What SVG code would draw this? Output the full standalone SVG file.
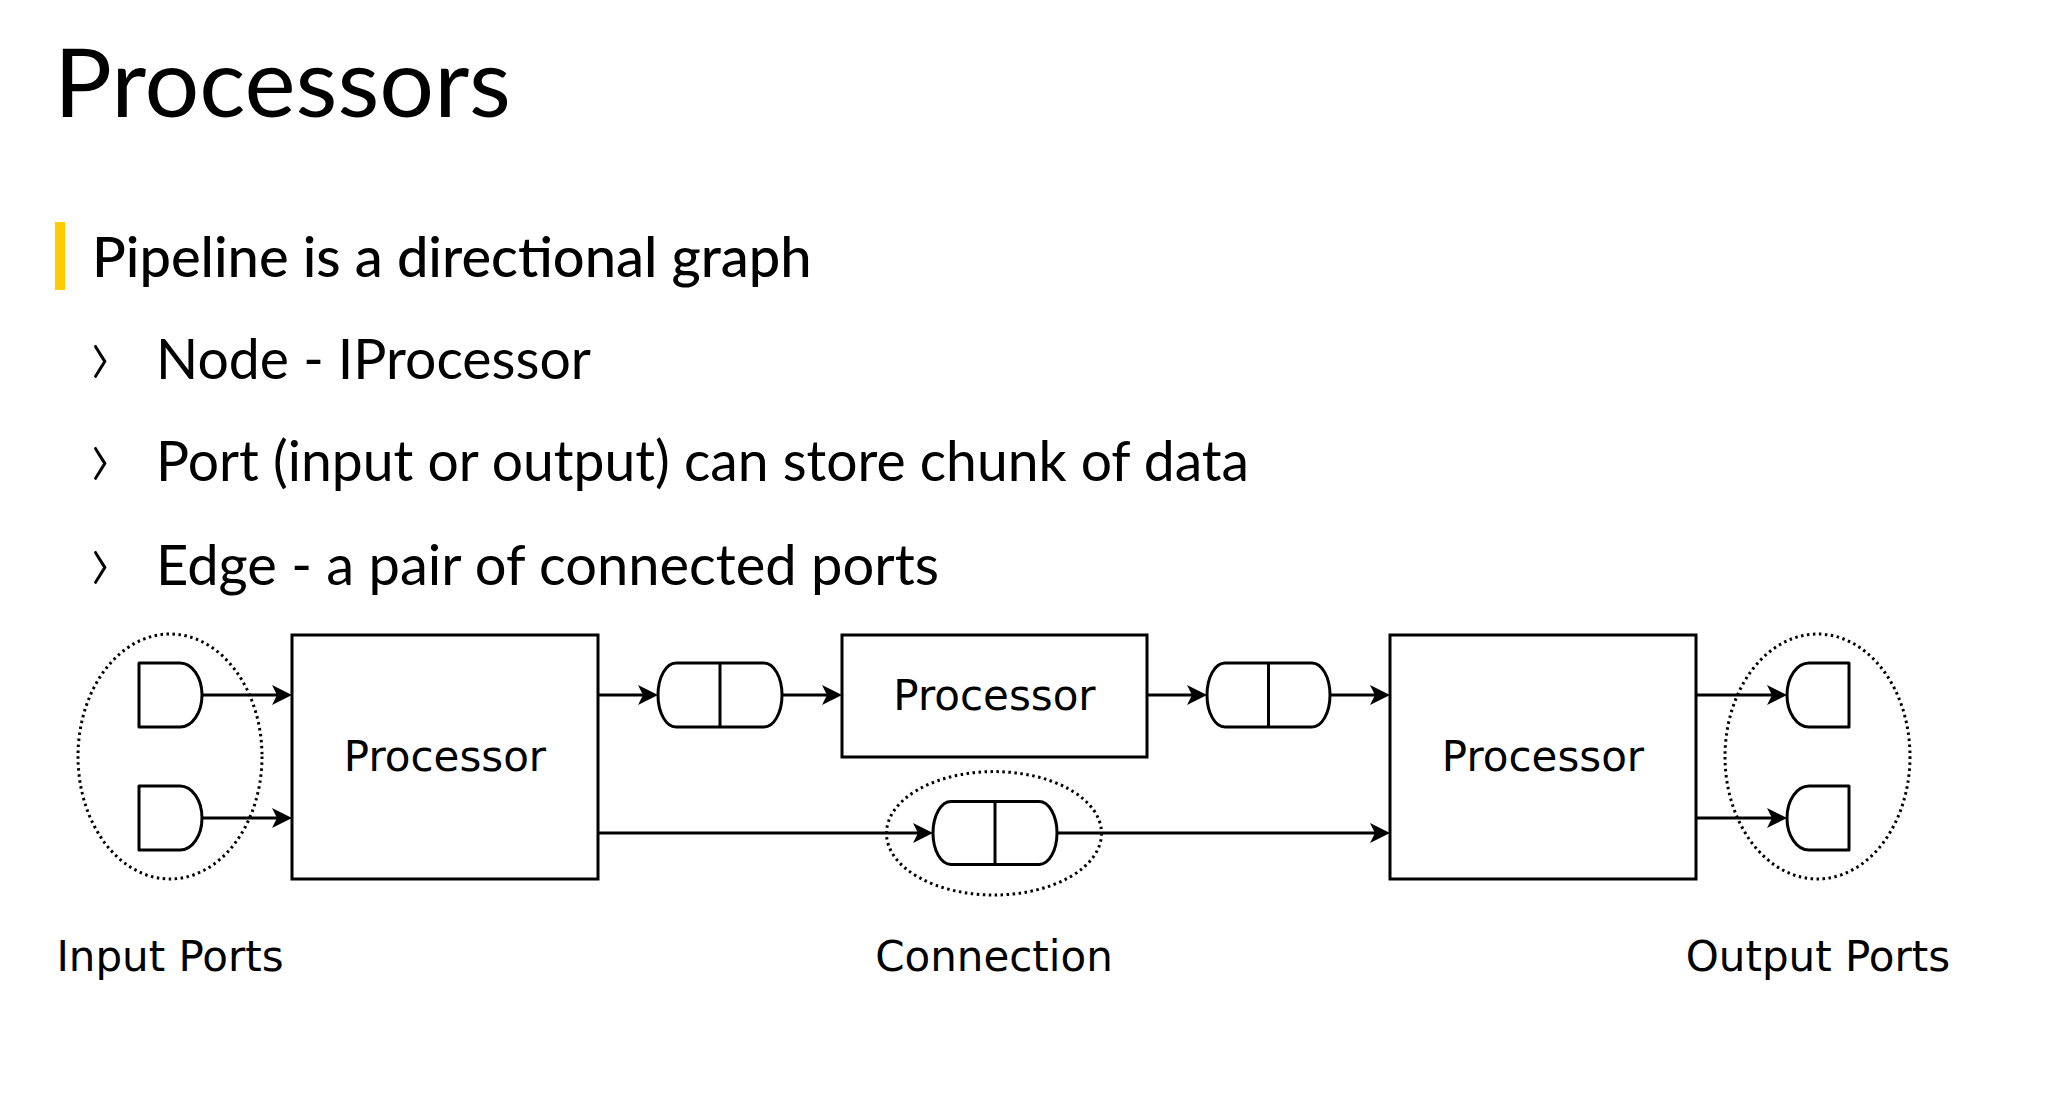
<svg xmlns="http://www.w3.org/2000/svg" width="2052" height="1102" viewBox="0 0 2052 1102">
<style>
.bg{fill:#ffffff}
.title{font-family:Lato,"Open Sans","Liberation Sans",sans-serif;font-size:95px;fill:#000}
.sub{font-family:Lato,"Open Sans","Liberation Sans",sans-serif;font-size:56px;font-weight:500;fill:#000}
.bul{font-family:Lato,"Open Sans","Liberation Sans",sans-serif;font-size:57px;font-weight:400;fill:#000}
.chev{font-family:Lato,"Open Sans","Liberation Sans",sans-serif;font-size:86px;font-weight:300;fill:#000}
.lbl{font-family:"DejaVu Sans","Liberation Sans",sans-serif;font-size:42px;fill:#000}
.box{fill:#fff;stroke:#000;stroke-width:3}
.port{fill:#fff;stroke:#000;stroke-width:3;stroke-linejoin:round}
.grp{fill:none;stroke:#000;stroke-width:3;stroke-dasharray:2.5 3.5}
.edge{fill:none;stroke:#000;stroke-width:3}
</style>
<defs>
<marker id="arr" markerUnits="userSpaceOnUse" viewBox="0 0 20 20" refX="10" refY="10" markerWidth="20" markerHeight="20" orient="auto">
<path d="M0,0 L20,10 L0,20 L5,10 Z" fill="#000"/>
</marker>
</defs>
<rect class="bg" x="0" y="0" width="2052" height="1102"/>
<g id="header">
<text class="title" x="54" y="117" textLength="457" lengthAdjust="spacingAndGlyphs">Processors</text>
<rect x="55" y="222" width="10" height="68" fill="#FFCC00"/>
<text class="sub" x="92" y="277">Pipeline is a directional graph</text>
<text class="chev" x="88" y="384">›</text>
<text class="bul" x="156" y="379" textLength="435" lengthAdjust="spacingAndGlyphs">Node - IProcessor</text>
<text class="chev" x="88" y="486">›</text>
<text class="bul" x="156" y="481" textLength="1093" lengthAdjust="spacingAndGlyphs">Port (input or output) can store chunk of data</text>
<text class="chev" x="88" y="590">›</text>
<text class="bul" x="156" y="585" textLength="783" lengthAdjust="spacingAndGlyphs">Edge - a pair of connected ports</text>
</g>
<g id="connectors">
<line class="edge" x1="202" y1="695" x2="282" y2="695" marker-end="url(#arr)"/>
<line class="edge" x1="202" y1="818" x2="282" y2="818" marker-end="url(#arr)"/>
<line class="edge" x1="598" y1="695" x2="648" y2="695" marker-end="url(#arr)"/>
<line class="edge" x1="782" y1="695" x2="832" y2="695" marker-end="url(#arr)"/>
<line class="edge" x1="1147" y1="695" x2="1197" y2="695" marker-end="url(#arr)"/>
<line class="edge" x1="1330" y1="695" x2="1380" y2="695" marker-end="url(#arr)"/>
<line class="edge" x1="598" y1="833" x2="923" y2="833" marker-end="url(#arr)"/>
<line class="edge" x1="1057" y1="833" x2="1380" y2="833" marker-end="url(#arr)"/>
<line class="edge" x1="1696" y1="695" x2="1777" y2="695" marker-end="url(#arr)"/>
<line class="edge" x1="1696" y1="818" x2="1777" y2="818" marker-end="url(#arr)"/>
</g>
<g id="input-ports">
<path class="port" d="M139,663 H180 A22,32 0 0 1 180,727 H139 Z"/>
<path class="port" d="M139,786 H180 A22,32 0 0 1 180,850 H139 Z"/>
<ellipse class="grp" cx="170" cy="756.5" rx="92" ry="122.5"/>
<text class="lbl" x="170" y="971" text-anchor="middle">Input Ports</text>
</g>
<g id="processor1">
<rect class="box" x="292" y="635" width="306" height="244"/>
<text class="lbl" x="445" y="771" text-anchor="middle">Processor</text>
</g>
<g id="queue1">
<path class="port" d="M676,663 H764 A18,32 0 0 1 764,727 H676 A18,32 0 0 1 676,663 Z"/>
<line class="edge" x1="720" y1="663" x2="720" y2="727"/>
</g>
<g id="processor2">
<rect class="box" x="842" y="635" width="305" height="122"/>
<text class="lbl" x="994.5" y="710" text-anchor="middle">Processor</text>
</g>
<g id="connection">
<path class="port" d="M951,801.5 H1039 A18,31.5 0 0 1 1039,864.5 H951 A18,31.5 0 0 1 951,801.5 Z"/>
<line class="edge" x1="995" y1="801.5" x2="995" y2="864.5"/>
<ellipse class="grp" cx="994" cy="833.3" rx="107.5" ry="61.7"/>
<text class="lbl" x="994" y="971" text-anchor="middle">Connection</text>
</g>
<g id="queue3">
<path class="port" d="M1225,663 H1312 A18,32 0 0 1 1312,727 H1225 A18,32 0 0 1 1225,663 Z"/>
<line class="edge" x1="1268.5" y1="663" x2="1268.5" y2="727"/>
</g>
<g id="processor3">
<rect class="box" x="1390" y="635" width="306" height="244"/>
<text class="lbl" x="1543" y="771" text-anchor="middle">Processor</text>
</g>
<g id="output-ports">
<path class="port" d="M1849,663 H1809 A22,32 0 0 0 1809,727 H1849 Z"/>
<path class="port" d="M1849,786 H1809 A22,32 0 0 0 1809,850 H1849 Z"/>
<ellipse class="grp" cx="1817.5" cy="756.5" rx="92.5" ry="122.5"/>
<text class="lbl" x="1818" y="971" text-anchor="middle">Output Ports</text>
</g>
</svg>
